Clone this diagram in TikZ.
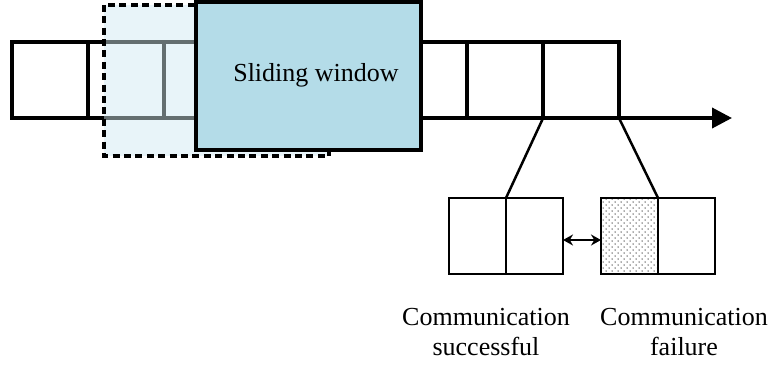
\documentclass[tikz,border=0pt]{standalone}
\usepackage{fontspec}
\setmainfont{Liberation Serif}
\usetikzlibrary{arrows.meta}

\definecolor{winblue}{HTML}{B4DCE8}
\definecolor{ghostblue}{HTML}{E8F4F9}
\definecolor{ghostline}{HTML}{646E70}
\definecolor{dotgray}{HTML}{555555}

\begin{document}
\begin{tikzpicture}[x=1pt,y=-1pt,
  cell/.style={draw, line width=3.8pt, minimum width=75.875pt, minimum height=76pt,
               inner sep=0pt, outer sep=0pt},
  slot/.style={draw, line width=2.8pt, minimum width=57pt, minimum height=76pt,
               inner sep=0pt, outer sep=0pt},
  ghostfill/.style={fill=ghostblue, minimum width=225pt, minimum height=151pt,
               inner sep=0pt, outer sep=0pt},
  ghostedge/.style={line width=3.6pt, dash pattern=on 7pt off 4.4pt},
  window/.style={draw, fill=winblue, line width=4pt, minimum width=225pt,
               minimum height=148pt, inner sep=0pt, outer sep=0pt},
  link/.style={line width=2.5pt},
  txt/.style={font=\fontsize{26}{30}\selectfont, inner sep=0pt, align=center},
]
\useasboundingbox (0,0) rectangle (770,364);

% time axis made of slots
\foreach \i in {0,...,7}
  \node[cell] (c\i) at ({12+75.875*(\i+0.5)},80) {};
\coordinate (axisend) at (732,118);
\draw[line width=3.8pt, -{Triangle[length=20pt,width=20pt]}] (c7.south east) -- (axisend);

% previous window position (ghosted)
\node[ghostfill] (ghost) at (216.5,80.3) {};
\draw[ghostline, line width=3.8pt] (ghost.west |- c2.north) -- (c2.north east);
\draw[ghostline, line width=3.8pt] (ghost.west |- c2.south) -- (c2.south east);
\draw[ghostline, line width=3.8pt] (c2.north west) -- (c2.south west);
\draw[ghostedge] (ghost.north west) rectangle (ghost.south east);

% current sliding window
\node[window] (win) at (308.5,76) {};
\node[txt, anchor=base] (wlabel) at (316,81) {Sliding window};

% expanded slot: two outcomes
\node[slot] (s1) at (477.5,236) {};
\node[slot] (s2) at (534.5,236) {};
\node[slot] (f1) at (629.5,236) {};
\node[slot] (f2) at (686.5,236) {};

% stippled (failed) half
\begin{scope}
  \clip ([shift={(1.5pt,-1.5pt)}]f1.north west) rectangle ([shift={(-1.5pt,1.5pt)}]f1.south east);
  \foreach \r in {0,...,26}
    \foreach \c in {0,...,10}
      \fill[dotgray] ({600+6*\c+3*mod(\r,2)},{199+3*\r}) circle (0.75pt);
\end{scope}

\draw[link] (c7.south west) -- (s2.north west);
\draw[link] (c7.south east) -- (f2.north west);
\draw[line width=2.2pt, {Stealth[length=10pt,width=11pt]}-{Stealth[length=10pt,width=11pt]}]
  ([yshift=-4pt]s2.east) -- ([yshift=-4pt]f1.west);

% captions
\node[txt, anchor=base] (okl) at (486,355) {Communication\\successful};
\node[txt, anchor=base] (fail) at (684,355) {Communication\\failure};
\end{tikzpicture}
\end{document}
